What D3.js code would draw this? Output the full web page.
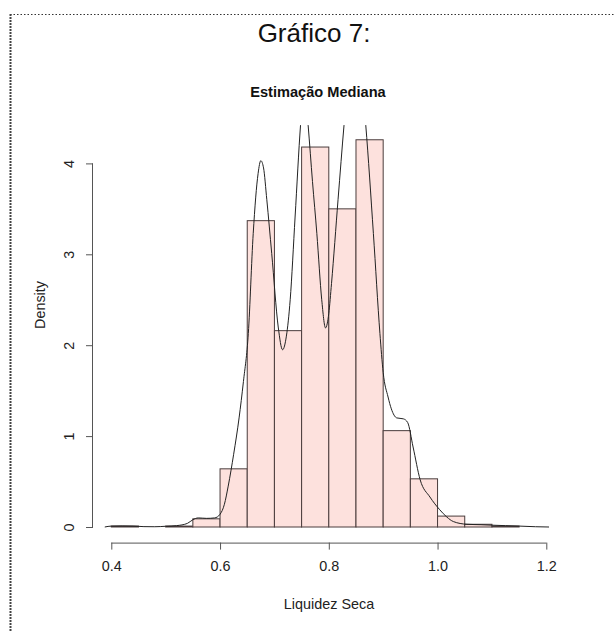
<!DOCTYPE html>
<html>
<head>
<meta charset="utf-8">
<script src="https://cdn.jsdelivr.net/npm/d3@7"></script>
<style>
  html, body { margin: 0; padding: 0; background: #fff; }
  svg { display: block; font-family: "Liberation Sans", Arial, sans-serif; }
</style>
</head>
<body>
<svg id="chart" width="614" height="632"></svg>
<script>
// ---- data ----
const binStarts = [0.40, 0.45, 0.50, 0.55, 0.60, 0.65, 0.70, 0.75, 0.80, 0.85, 0.90, 0.95, 1.00, 1.05, 1.10];
const binWidth = 0.05;
const binDensity = [0.01, 0.0, 0.01, 0.09, 0.64, 3.37, 2.16, 4.18, 3.50, 4.26, 1.06, 0.53, 0.12, 0.03, 0.01];

const curveX = [0.388, 0.40, 0.42, 0.44, 0.46, 0.48, 0.50, 0.52, 0.54, 0.55, 0.56, 0.575, 0.59, 0.60, 0.608, 0.615, 0.625, 0.635, 0.643, 0.652, 0.661, 0.670, 0.675, 0.680, 0.686, 0.695, 0.707, 0.715, 0.722, 0.729, 0.738, 0.748, 0.755, 0.762, 0.770, 0.778, 0.787, 0.794, 0.800, 0.805, 0.817, 0.828, 0.848, 0.868, 0.882, 0.894, 0.900, 0.909, 0.915, 0.925, 0.937, 0.945, 0.955, 0.968, 0.986, 1.004, 1.017, 1.029, 1.054, 1.08, 1.10, 1.125, 1.15, 1.18, 1.205];
const curveY = [0, 0.01, 0.012, 0.01, 0.004, 0.003, 0.008, 0.015, 0.04, 0.08, 0.10, 0.095, 0.10, 0.14, 0.25, 0.45, 0.80, 1.20, 1.60, 2.13, 3.23, 3.89, 4.03, 3.95, 3.60, 3.01, 2.20, 1.95, 2.10, 2.50, 3.41, 4.42, 4.90, 4.42, 3.80, 3.23, 2.50, 2.19, 2.35, 2.68, 3.60, 4.42, 5.60, 4.42, 3.23, 2.13, 1.70, 1.43, 1.30, 1.20, 1.19, 1.15, 0.88, 0.52, 0.33, 0.19, 0.11, 0.06, 0.03, 0.025, 0.02, 0.015, 0.01, 0.003, 0];

const xTicks = [0.4, 0.6, 0.8, 1.0, 1.2];
const yTicks = [0, 1, 2, 3, 4];

const pageTitle = "Gráfico 7:";
const plotTitle = "Estimação Mediana";
const xLabel = "Liquidez Seca";
const yLabel = "Density";

// ---- layout ----
const svg = d3.select("#chart");
const plot = { left: 93, right: 565, top: 125, bottom: 542.6 };
const x = d3.scaleLinear().domain([0.4, 1.2]).range([111.3, 546.3]);
const y = d3.scaleLinear().domain([0, 4]).range([527, 163.4]);
const axisColor = "#555";
const textColor = "#222";

// page border (dotted)
svg.append("line").attr("x1", 10).attr("x2", 614).attr("y1", 14.5).attr("y2", 14.5)
  .attr("stroke", "#333").attr("stroke-width", 1.2).attr("stroke-dasharray", "1.5,2");
svg.append("line").attr("x1", 10.5).attr("x2", 10.5).attr("y1", 14).attr("y2", 632)
  .attr("stroke", "#444").attr("stroke-width", 2).attr("stroke-dasharray", "2,1");

// titles
svg.append("text").attr("x", 314).attr("y", 42).attr("text-anchor", "middle")
  .attr("font-size", 26).attr("fill", "#111").text(pageTitle);
svg.append("text").attr("x", 318).attr("y", 97).attr("text-anchor", "middle")
  .attr("font-size", 14.6).attr("font-weight", "bold").attr("fill", "#111").text(plotTitle);

// bars
svg.append("g").selectAll("rect").data(binStarts.map((s, i) => ({ s, d: binDensity[i] })))
  .join("rect")
  .attr("x", d => x(d.s))
  .attr("width", d => x(d.s + binWidth) - x(d.s))
  .attr("y", d => y(d.d))
  .attr("height", d => y(0) - y(d.d))
  .attr("fill", "#fde1dd")
  .attr("stroke", "#4a3c3c")
  .attr("stroke-width", 1);

// density curve clipped to plot region
svg.append("clipPath").attr("id", "clip").append("rect")
  .attr("x", plot.left).attr("y", plot.top)
  .attr("width", plot.right - plot.left).attr("height", plot.bottom - plot.top);
const line = d3.line().x(d => x(d[0])).y(d => y(d[1])).curve(d3.curveMonotoneX);
svg.append("path").datum(curveX.map((v, i) => [v, curveY[i]]))
  .attr("clip-path", "url(#clip)")
  .attr("d", line).attr("fill", "none").attr("stroke", "#222").attr("stroke-width", 1);

// x axis
const xAxisG = svg.append("g").attr("transform", `translate(0,${plot.bottom})`)
  .call(d3.axisBottom(x).tickValues(xTicks).tickFormat(d3.format(".1f")).tickSize(7).tickPadding(11));
xAxisG.select(".domain").attr("d", `M${x(0.4)},0.5H${x(1.2)}`).attr("stroke", axisColor);
xAxisG.selectAll(".tick line").attr("stroke", axisColor);
xAxisG.selectAll(".tick text").attr("font-size", 14.4).attr("fill", textColor)
  .attr("font-family", "Liberation Sans, Arial, sans-serif");

// y axis
const yAxisG = svg.append("g").attr("transform", `translate(${plot.left},0)`)
  .call(d3.axisLeft(y).tickValues(yTicks).tickFormat(d3.format("d")).tickSize(7));
yAxisG.select(".domain").attr("d", `M-0.5,${y(0)}V${y(4)}`).attr("stroke", axisColor);
yAxisG.selectAll(".tick line").attr("stroke", axisColor);
yAxisG.selectAll(".tick text")
  .attr("font-size", 14.4).attr("fill", textColor)
  .attr("font-family", "Liberation Sans, Arial, sans-serif")
  .attr("x", null).attr("dy", null)
  .attr("text-anchor", "middle")
  .attr("transform", "translate(-19,0) rotate(-90)");

// axis labels
svg.append("text").attr("x", 329).attr("y", 609).attr("text-anchor", "middle")
  .attr("font-size", 14.4).attr("fill", textColor).text(xLabel);
svg.append("text").attr("transform", `translate(45,305) rotate(-90)`)
  .attr("text-anchor", "middle").attr("font-size", 14.4).attr("fill", textColor).text(yLabel);
</script>
</body>
</html>
